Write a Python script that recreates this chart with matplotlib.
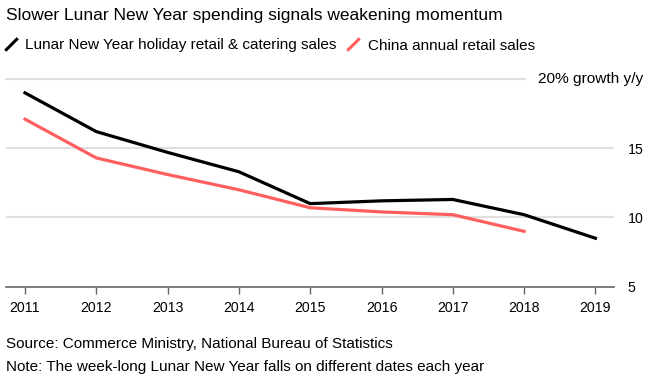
import matplotlib
matplotlib.use("Agg")
import matplotlib.pyplot as plt
from matplotlib.lines import Line2D
import matplotlib.transforms as mtransforms

plt.rcParams['font.family'] = ['Liberation Sans', 'DejaVu Sans']

years = [2011, 2012, 2013, 2014, 2015, 2016, 2017, 2018, 2019]
lny_sales = [19.0, 16.2, 14.7, 13.3, 11.0, 11.2, 11.3, 10.2, 8.5]
retail_years = [2011, 2012, 2013, 2014, 2015, 2016, 2017, 2018]
retail_sales = [17.1, 14.3, 13.1, 12.0, 10.7, 10.4, 10.2, 9.0]
y_ticks = [5, 10, 15, 20]
y_tick_labels = ["5", "10", "15", "20% growth y/y"]

title = "Slower Lunar New Year spending signals weakening momentum"
series_names = ["Lunar New Year holiday retail & catering sales", "China annual retail sales"]
source = "Source: Commerce Ministry, National Bureau of Statistics"
note = "Note: The week-long Lunar New Year falls on different dates each year"

BLACK = "#000000"
RED = "#ff5f5f"
GRID = "#e0e0e0"
AXIS = "#666666"

W, H = 654, 383
fig = plt.figure(figsize=(W / 100, H / 100), dpi=100)

left_px, right_px = 6, 614
top_px, bot_px = 79, 286.7
ax = fig.add_axes([left_px / W, (H - bot_px) / H, (right_px - left_px) / W, (bot_px - top_px) / H])

px_per_year = (595.4 - 25) / 8
ax.set_xlim(2011 - (25 - left_px) / px_per_year, 2019 + (right_px - 595.4) / px_per_year)
ax.set_ylim(5, 20)

# gridlines
for yv in y_ticks[1:-1]:
    ax.axhline(yv, color=GRID, lw=1.5, zorder=0)
ax.axhline(y_ticks[-1], xmin=0, xmax=(525 - left_px) / (right_px - left_px), color=GRID, lw=1.5, zorder=0, clip_on=False)

ax.plot(years, lny_sales, color=BLACK, lw=2.3, solid_joinstyle='miter', zorder=3)
ax.plot(retail_years, retail_sales, color=RED, lw=2.3, solid_joinstyle='miter', zorder=2)

for s in ['top', 'right', 'left']:
    ax.spines[s].set_visible(False)
ax.spines['bottom'].set_color(AXIS)
ax.spines['bottom'].set_linewidth(1.2)

ax.set_xticks(years)
ax.set_xticklabels([str(y) for y in years], fontsize=10.2)
ax.tick_params(axis='x', length=5, width=1.0, color=AXIS, pad=5, labelcolor='black')

ax.yaxis.tick_right()
ax.set_yticks(y_ticks[:-1])
ax.set_yticklabels(y_tick_labels[:-1], fontsize=10.2)
ax.tick_params(axis='y', length=0, pad=10)

trans = mtransforms.blended_transform_factory(fig.transFigure, ax.transData)
ax.text(643 / W, y_ticks[-1], y_tick_labels[-1], transform=trans, ha='right', va='center',
        fontsize=11.1, clip_on=False)

fig.text(6 / W, 1 - 15.5 / H, title, fontsize=12.5, ha='left', va='center')

slash = [(-1, -1), (1, 1)]
handles = [
    Line2D([], [], marker=slash, linestyle='None', markersize=9, markeredgewidth=2.2,
           color=BLACK, markeredgecolor=BLACK),
    Line2D([], [], marker=slash, linestyle='None', markersize=9, markeredgewidth=2.2,
           color=RED, markeredgecolor=RED),
]
leg = fig.legend(handles, series_names, loc='center left', bbox_to_anchor=(0 / W, 1 - 45.5 / H),
                 ncol=2, frameon=False, fontsize=11.0, handlelength=1.0, handletextpad=0.45,
                 columnspacing=0.6, borderaxespad=0, borderpad=0.2)

fig.text(6 / W, 1 - 344.3 / H, source, fontsize=11.0, ha='left', va='center')
fig.text(6 / W, 1 - 367.3 / H, note, fontsize=11.0, ha='left', va='center')

fig.savefig("out.png", dpi=100)
